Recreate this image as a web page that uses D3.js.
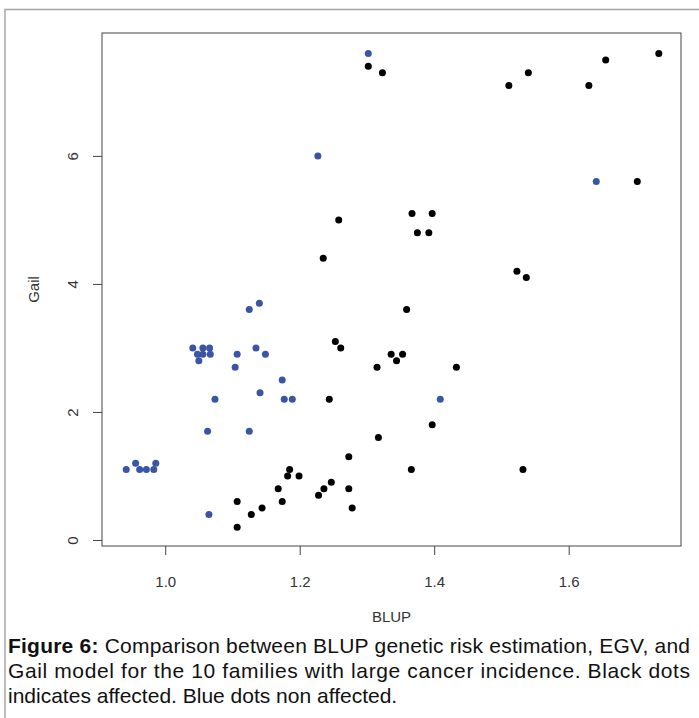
<!DOCTYPE html>
<html>
    <head>
        <title>Figure 6</title>
        <meta http-equiv="Content-Type" content="text/html; charset=UTF-8">
        <script src="https://d3js.org/d3.v7.min.js"></script>
        <style>
            body { margin: 0; background: #fff; }
            text { font-family: "Liberation Sans", Arial, sans-serif; }
        </style>
    </head>
    <body>
        <div id="chart"></div>
        <script>
            // black dots = affected
            var blupAffected = [1.302, 1.323, 1.511, 1.540, 1.630, 1.655, 1.734, 1.702,
                1.258, 1.367, 1.397, 1.375, 1.392, 1.235, 1.523, 1.537,
                1.359, 1.253, 1.261, 1.336, 1.353, 1.344, 1.315, 1.433,
                1.244, 1.397, 1.317, 1.273, 1.366, 1.532,
                1.107, 1.107, 1.128, 1.144, 1.168, 1.174, 1.182, 1.185, 1.199, 1.228, 1.236, 1.247, 1.273, 1.278];
            var gailAffected = [7.4, 7.3, 7.1, 7.3, 7.1, 7.5, 7.6, 5.6,
                5.0, 5.1, 5.1, 4.8, 4.8, 4.4, 4.2, 4.1,
                3.6, 3.1, 3.0, 2.9, 2.9, 2.8, 2.7, 2.7,
                2.2, 1.8, 1.6, 1.3, 1.1, 1.1,
                0.6, 0.2, 0.4, 0.5, 0.8, 0.6, 1.0, 1.1, 1.0, 0.7, 0.8, 0.9, 0.8, 0.5];

            // blue dots = non affected
            var blupUnaffected = [1.302, 1.227, 1.641, 1.125, 1.140,
                1.041, 1.056, 1.066, 1.048, 1.056, 1.067, 1.050,
                1.135, 1.149, 1.107, 1.104, 1.174, 1.141, 1.074, 1.177, 1.189, 1.409,
                1.063, 1.125, 1.065,
                0.942, 0.956, 0.962, 0.972, 0.983, 0.986];
            var gailUnaffected = [7.6, 6.0, 5.6, 3.6, 3.7,
                3.0, 3.0, 3.0, 2.9, 2.9, 2.9, 2.8,
                3.0, 2.9, 2.9, 2.7, 2.5, 2.3, 2.2, 2.2, 2.2, 2.2,
                1.7, 1.7, 0.4,
                1.1, 1.2, 1.1, 1.1, 1.1, 1.2];

            var xTicks = [1.0, 1.2, 1.4, 1.6];
            var yTicks = [0, 2, 4, 6];

            var W = 699, H = 718;
            var svg = d3.select("#chart").append("svg")
                .attr("width", W)
                .attr("height", H);

            // outer frame of the figure
            svg.append("rect")
                .attr("x", 5).attr("y", 9.5)
                .attr("width", 720).attr("height", 740)
                .attr("fill", "none")
                .attr("stroke", "#a6a6a6")
                .attr("stroke-width", 1.5);

            var x = d3.scaleLinear().domain([0.906, 1.767]).range([102, 681]);
            var y = d3.scaleLinear().domain([-0.094, 7.92]).range([546, 33]);

            // plot box
            svg.append("rect")
                .attr("x", x.range()[0]).attr("y", y.range()[1])
                .attr("width", x.range()[1] - x.range()[0])
                .attr("height", y.range()[0] - y.range()[1])
                .attr("fill", "none")
                .attr("stroke", "#444")
                .attr("stroke-width", 1);

            // x axis
            var xAxis = svg.append("g")
                .attr("transform", "translate(0," + y.range()[0] + ")")
                .call(d3.axisBottom(x).tickValues(xTicks).tickFormat(d3.format(".1f")).tickSize(9).tickPadding(21));
            xAxis.select(".domain").remove();
            xAxis.selectAll("line").attr("stroke", "#444");
            xAxis.selectAll("text").attr("font-size", 15).attr("fill", "#333")
                .attr("font-family", "Liberation Sans, Arial, sans-serif");

            // y axis, labels turned like R
            var yAxis = svg.append("g")
                .attr("transform", "translate(" + x.range()[0] + ",0)")
                .call(d3.axisLeft(y).tickValues(yTicks).tickSize(9).tickFormat(d3.format("d")));
            yAxis.select(".domain").remove();
            yAxis.selectAll("line").attr("stroke", "#444");
            yAxis.selectAll("text")
                .attr("font-size", 15).attr("fill", "#333")
                .attr("font-family", "Liberation Sans, Arial, sans-serif")
                .attr("x", null).attr("dy", null)
                .attr("text-anchor", "middle")
                .attr("transform", "translate(-24,0) rotate(-90)");

            // axis titles
            svg.append("text")
                .attr("x", (x.range()[0] + x.range()[1]) / 2)
                .attr("y", 622)
                .attr("text-anchor", "middle")
                .attr("font-size", 15).attr("fill", "#333")
                .text("BLUP");
            svg.append("text")
                .attr("transform", "translate(39," + (y.range()[0] + y.range()[1]) / 2 + ") rotate(-90)")
                .attr("text-anchor", "middle")
                .attr("font-size", 15).attr("fill", "#333")
                .text("Gail");

            // points
            svg.selectAll("circle.aff")
                .data(d3.range(blupAffected.length))
                .enter().append("circle")
                .attr("class", "aff")
                .attr("cx", function(i) { return x(blupAffected[i]); })
                .attr("cy", function(i) { return y(gailAffected[i]); })
                .attr("r", 3.5)
                .attr("fill", "#000");

            svg.selectAll("circle.unaff")
                .data(d3.range(blupUnaffected.length))
                .enter().append("circle")
                .attr("class", "unaff")
                .attr("cx", function(i) { return x(blupUnaffected[i]); })
                .attr("cy", function(i) { return y(gailUnaffected[i]); })
                .attr("r", 3.5)
                .attr("fill", "#3b55a6");

            // caption
            var cap = svg.append("text").attr("font-size", 21).attr("fill", "#111");
            var l1 = cap.append("tspan").attr("x", 8).attr("y", 653)
                .attr("textLength", 682).attr("lengthAdjust", "spacing");
            l1.append("tspan").attr("font-weight", "bold").text("Figure 6:");
            l1.append("tspan").text(" Comparison between BLUP genetic risk estimation, EGV, and");
            cap.append("tspan").attr("x", 8).attr("y", 678)
                .attr("textLength", 682).attr("lengthAdjust", "spacing")
                .text("Gail model for the 10 families with large cancer incidence. Black dots");
            cap.append("tspan").attr("x", 8).attr("y", 703)
                .text("indicates affected. Blue dots non affected.");
        </script>
    </body>
</html>
